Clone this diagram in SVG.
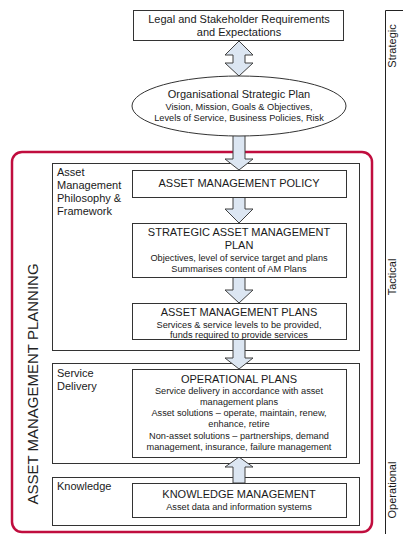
<svg xmlns="http://www.w3.org/2000/svg" width="403" height="534" viewBox="0 0 403 534">
<style>
text{font-family:"Liberation Sans",Arial,sans-serif;fill:#1a1a1a}
.t{font-size:11px;text-anchor:middle}
.s{font-size:9.2px;text-anchor:middle}
.l{font-size:11px}
.box{fill:#fff;stroke:#333;stroke-width:1}
.sec{fill:none;stroke:#333;stroke-width:1}
.arr{fill:#dce6f2;stroke:#404040;stroke-width:1;stroke-linejoin:miter}
.v{font-size:11px;text-anchor:middle}
</style>
<rect width="403" height="534" fill="#fff"/>
<g id="frame">
<rect x="12" y="152" width="360" height="380" rx="10" fill="none" stroke="#c00d3e" stroke-width="2.5"/>
<text transform="translate(38,384) rotate(-90)" style="font-size:15px;text-anchor:middle;fill:#222">ASSET MANAGEMENT PLANNING</text>
</g>
<g id="scale">
<path d="M403 10.5H385.5V534" fill="none" stroke="#222" stroke-width="1"/>
<text class="v" transform="translate(396,46) rotate(-90)">Strategic</text>
<text class="v" transform="translate(396,277) rotate(-90)">Tactical</text>
<text class="v" transform="translate(396,490) rotate(-90)">Operational</text>
</g>
<g id="sections">
<rect class="sec" x="52.5" y="163.5" width="307" height="187"/>
<text class="l" x="57" y="176">Asset</text>
<text class="l" x="57" y="189">Management</text>
<text class="l" x="57" y="202">Philosophy &amp;</text>
<text class="l" x="57" y="215">Framework</text>
<rect class="sec" x="52.5" y="363.5" width="307" height="100"/>
<text class="l" x="57" y="377">Service</text>
<text class="l" x="57" y="390">Delivery</text>
<rect class="sec" x="52.5" y="477.5" width="307" height="48"/>
<text class="l" x="57" y="490">Knowledge</text>
</g>
<g id="connectors">
<path class="arr" d="M239 41L253 55H245V63H253L239 76L225 63H233V55H225Z"/>
<path class="arr" d="M233 130V159H225L239 170L253 159H245V130Z"/>
<path class="arr" d="M233 197V209H225L239 223L253 209H245V197Z"/>
<path class="arr" d="M233 277V290H225L239 303L253 290H245V277Z"/>
<path class="arr" d="M233 339V358H225L239 369L253 358H245V339Z"/>
<path class="arr" d="M233 483V467H225L239 457L253 467H245V483Z"/>
</g>
<g id="legal">
<rect class="box" x="133.5" y="10.5" width="210" height="30"/>
<text class="t" x="239" y="23">Legal and Stakeholder Requirements</text>
<text class="t" x="239" y="36">and Expectations</text>
</g>
<g id="org-plan">
<ellipse cx="239" cy="106" rx="107" ry="30" fill="#fff" stroke="#333" stroke-width="1"/>
<text class="t" x="239" y="98">Organisational Strategic Plan</text>
<text class="s" x="239" y="110">Vision, Mission, Goals &amp; Objectives,</text>
<text class="s" x="239" y="121">Levels of Service, Business Policies, Risk</text>
</g>
<g id="policy">
<rect class="box" x="132.5" y="170.5" width="214" height="27"/>
<text class="t" x="239" y="187">ASSET MANAGEMENT POLICY</text>
</g>
<g id="samp">
<rect class="box" x="132.5" y="223.5" width="214" height="54"/>
<text class="t" x="239" y="236">STRATEGIC ASSET MANAGEMENT</text>
<text class="t" x="239" y="249">PLAN</text>
<text class="s" x="239" y="261">Objectives, level of service target and plans</text>
<text class="s" x="239" y="272">Summarises content of AM Plans</text>
</g>
<g id="am-plans">
<rect class="box" x="132.5" y="303.5" width="214" height="36"/>
<text class="t" x="239" y="316">ASSET MANAGEMENT PLANS</text>
<text class="s" x="239" y="328">Services &amp; service levels to be provided,</text>
<text class="s" x="239" y="338">funds required to provide services</text>
</g>
<g id="op-plans">
<rect class="box" x="132.5" y="369.5" width="214" height="88"/>
<text class="t" x="239" y="383">OPERATIONAL PLANS</text>
<text class="s" x="239" y="394">Service delivery in accordance with asset</text>
<text class="s" x="239" y="405">management plans</text>
<text class="s" x="239" y="416">Asset solutions – operate, maintain, renew,</text>
<text class="s" x="239" y="427">enhance, retire</text>
<text class="s" x="239" y="439">Non-asset solutions – partnerships, demand</text>
<text class="s" x="239" y="450">management, insurance, failure management</text>
</g>
<g id="knowledge">
<rect class="box" x="132.5" y="483.5" width="214" height="34"/>
<text class="t" x="239" y="498">KNOWLEDGE MANAGEMENT</text>
<text class="s" x="239" y="510">Asset data and information systems</text>
</g>
</svg>
